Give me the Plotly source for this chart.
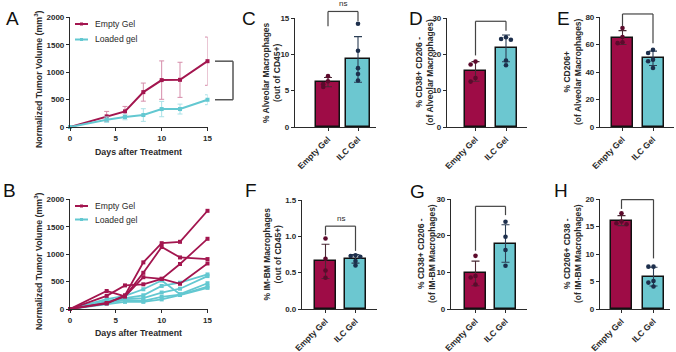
import numpy as np
import plotly.graph_objects as go

W, H = 676, 352

# ---------------- data ----------------
days = [0, 4, 6, 8, 10, 12, 15]
empty_mean = [0, 194, 285, 636, 855, 860, 1200]
empty_sd = [0, 90, 90, 165, 350, 320, 440]
loaded_mean = [0, 133, 182, 218, 327, 327, 497]
loaded_sd = [0, 50, 50, 115, 140, 90, 90]

empty_mice = [
    [0, 100, 250, 850, 1200, 1225, 1790],
    [0, 110, 230, 660, 1130, 940, 910],
    [0, 240, 430, 450, 550, 820, 1280],
    [0, 328, 230, 580, 550, 460, 830],
]
loaded_mice = [
    [0, 180, 240, 360, 520, 270, 470],
    [0, 150, 200, 250, 420, 480, 630],
    [0, 130, 180, 200, 300, 370, 600],
    [0, 110, 160, 150, 220, 260, 410],
    [0, 95, 130, 130, 175, 255, 385],
]

groups = ["Empty Gel", "ILC Gel"]

c_empty = [7.0, 6.3, 5.9, 5.5]
c_ilc = [14.2, 10.5, 8.1, 7.3, 6.4]
d_empty = [18.0, 17.2, 13.5, 12.5]
d_ilc = [24.7, 24.2, 24.0, 18.3, 17.0]
e_empty = [72.0, 65.5, 61.6, 61.0]
e_ilc = [56.2, 53.8, 49.0, 47.8, 42.9]
f_empty = [0.97, 0.69, 0.53, 0.43]
f_ilc = [0.74, 0.73, 0.72, 0.66, 0.60]
g_empty = [14.5, 9.0, 8.6, 6.7]
g_ilc = [23.8, 19.7, 16.1, 11.8]
h_empty = [17.4, 15.9, 15.6, 15.4]
h_ilc = [7.7, 7.7, 5.1, 4.8, 4.1]

# ---------------- style ----------------
RED = "#9E0C46"
RED_LINE = "#A3164F"
RED_ERR = "#D68DAA"
CYAN = "#6CC7D0"
CYAN_LINE = "#63C8D1"
CYAN_ERR = "#A9E1E7"
DOT_RED = "#5C0A2C"
DOT_BLUE = "#1D2F4C"
ERR_RED = "#4A2A35"
ERR_BLUE = "#2C3F55"
AXC = "#2a2a2a"
FONT = "Liberation Sans"

def px(x):
    return x / W

def py(y):
    return 1 - y / H

fig = go.Figure()
layout = {}
annotations = []
shapes = []

tickfont = dict(family=FONT, size=8, color=AXC, weight="bold")
cattickfont = dict(family=FONT, size=8.5, color=AXC, weight="bold")

def axis_common():
    return dict(showline=True, linecolor=AXC, linewidth=1.2, ticks="outside",
                ticklen=3, tickwidth=1.1, tickcolor=AXC, showgrid=False,
                zeroline=False, tickfont=tickfont, automargin=False)

# ---------------- line panels ----------------
line_panels = [
    dict(n=1, ytop=17.3, ybot=127, title_y=152, ytitle_y=79, leg=(24, 39.5)),
    dict(n=2, ytop=199.3, ybot=309, title_y=333, ytitle_y=261, leg=(206, 219.5)),
]
LX0, LX1 = 70, 207.5
for p in line_panels:
    n = p["n"]
    sfx = "" if n == 1 else str(n)
    xa = axis_common()
    xa.update(domain=[px(LX0), px(LX1)], range=[0, 15], tickvals=[0, 5, 10, 15], anchor="y" + sfx)
    ya = axis_common()
    ya.update(domain=[py(p["ybot"]), py(p["ytop"])], range=[0, 2000],
              tickvals=[0, 500, 1000, 1500, 2000], anchor="x" + sfx)
    layout["xaxis" + sfx] = xa
    layout["yaxis" + sfx] = ya
    annotations.append(dict(text="Days after Treatment", x=px((LX0 + LX1) / 2), y=py(p["title_y"]),
                            xref="paper", yref="paper", showarrow=False, xanchor="center", yanchor="middle",
                            font=dict(family=FONT, size=8.8, color=AXC, weight="bold")))
    annotations.append(dict(text="Normalized Tumor Volume (mm<sup>3</sup>)", x=px(38), y=py(p["ytitle_y"]),
                            xref="paper", yref="paper", showarrow=False, textangle=-90,
                            xanchor="center", yanchor="middle",
                            font=dict(family=FONT, size=8.8, color=AXC, weight="bold")))
    # manual legend
    for (lbl, col, yy) in [("Empty Gel", RED_LINE, p["leg"][0]), ("Loaded gel", CYAN_LINE, p["leg"][1])]:
        shapes.append(dict(type="line", xref="paper", yref="paper", x0=px(75), x1=px(88),
                           y0=py(yy), y1=py(yy), line=dict(color=col, width=2)))
        shapes.append(dict(type="rect", xref="paper", yref="paper", x0=px(80), x1=px(83),
                           y0=py(yy - 1.5), y1=py(yy + 1.5),
                           line=dict(width=0), fillcolor=col))
        annotations.append(dict(text=lbl, x=px(93), y=py(yy), xref="paper", yref="paper",
                                showarrow=False, xanchor="left", yanchor="middle",
                                font=dict(family=FONT, size=8.6, color=AXC)))

# Panel A: means with SD
fig.add_trace(go.Scatter(x=days, y=empty_mean, mode="lines+markers", xaxis="x", yaxis="y",
                         line=dict(color=RED_LINE, width=2), marker=dict(symbol="square", size=4, color=RED_LINE),
                         error_y=dict(type="data", array=empty_sd, color=RED_ERR, thickness=1, width=2.5),
                         cliponaxis=False, showlegend=False))
fig.add_trace(go.Scatter(x=days, y=loaded_mean, mode="lines+markers", xaxis="x", yaxis="y",
                         line=dict(color=CYAN_LINE, width=2), marker=dict(symbol="square", size=4, color=CYAN_LINE),
                         error_y=dict(type="data", array=loaded_sd, color=CYAN_ERR, thickness=1, width=2.5),
                         cliponaxis=False, showlegend=False))

def ydom(v, r):
    return (v - r[0]) / (r[1] - r[0])

# bracket right of panel A (domain coordinates)
bx0 = (215 - LX0) / (LX1 - LX0)
bx1 = (233 - LX0) / (LX1 - LX0)
yt = ydom(empty_mean[-1], [0, 2000])
yb = ydom(loaded_mean[-1], [0, 2000])
for (xa0, xa1, ya0, ya1) in [(bx0, bx1, yt, yt), (bx0, bx1, yb, yb), (bx1, bx1, yb, yt)]:
    shapes.append(dict(type="line", xref="x domain", yref="y domain", x0=xa0, x1=xa1, y0=ya0, y1=ya1,
                       line=dict(color="#555555", width=1.5)))

# Panel B: individual mice
for m in loaded_mice:
    fig.add_trace(go.Scatter(x=days, y=m, mode="lines+markers", xaxis="x2", yaxis="y2",
                             line=dict(color=CYAN_LINE, width=1.8),
                             marker=dict(symbol="square", size=4, color=CYAN_LINE),
                             cliponaxis=False, showlegend=False))
for m in empty_mice:
    fig.add_trace(go.Scatter(x=days, y=m, mode="lines+markers", xaxis="x2", yaxis="y2",
                             line=dict(color=RED_LINE, width=1.8),
                             marker=dict(symbol="square", size=4, color=RED_LINE),
                             cliponaxis=False, showlegend=False))

# ---------------- bar panels ----------------
bar_panels = [
    dict(letter="C", data=(c_empty, c_ilc), left=295, right=376, c0=328, c1=358, bw=24, ytop=18, ybot=127,
         rng=15, ticks=[0, 5, 10, 15], fmt=None, title="% Alveolar Macrophages<br>(out of CD45+)",
         tx=271.5, br=(15.9, 13.85, 14.6), ns=True),
    dict(letter="D", data=(d_empty, d_ilc), left=447, right=527, c0=475.5, c1=506, bw=21, ytop=18, ybot=127,
         rng=30, ticks=[0, 10, 20, 30], fmt=None, title="% CD38+ CD206 -<br>(of Alveolar Macrophages)",
         tx=424, br=(29.1, 19.7, 26.5), ns=False),
    dict(letter="E", data=(e_empty, e_ilc), left=600, right=674, c0=622.5, c1=653, bw=21, ytop=17, ybot=127,
         rng=80, ticks=[0, 20, 40, 60, 80], fmt=None, title="% CD206+<br>(of Alveolar Macrophages)",
         tx=572, br=(82.2, 73.2, 61.0), ns=False),
    dict(letter="F", data=(f_empty, f_ilc), left=302, right=377, c0=325.5, c1=355.5, bw=21, ytop=200, ybot=309,
         rng=1.5, ticks=[0, 0.5, 1.0, 1.5], fmt=".1f", title="% IM-BM Macrophages<br>(out of CD45+)",
         tx=272, br=(1.14, 1.015, 0.8), ns=True),
    dict(letter="G", data=(g_empty, g_ilc), left=451, right=527, c0=475.5, c1=505.5, bw=21, ytop=199, ybot=309,
         rng=30, ticks=[0, 10, 20, 30], fmt=None, title="% CD38+ CD206 -<br>(of IM-BM Macrophages)",
         tx=426, br=(28.0, 15.9, 25.6), ns=False),
    dict(letter="H", data=(h_empty, h_ilc), left=600, right=670, c0=621.5, c1=653.5, bw=21, ytop=199, ybot=309,
         rng=20, ticks=[0, 5, 10, 15, 20], fmt=None, title="% CD206+ CD38 -<br>(of IM-BM Macrophages)",
         tx=572, br=(19.9, 18.2, 9.2), ns=False),
]

def swarm(vals, thr):
    pattern = [0, -1, 1, -2, 2]
    offs, placed = [], []
    for v in vals:
        k = sum(1 for q in placed if abs(q - v) < thr)
        offs.append(pattern[min(k, 4)] * 0.16)
        placed.append(v)
    return offs

for i, p in enumerate(bar_panels):
    n = i + 3
    xn, yn = "x%d" % n, "y%d" % n
    unit = p["c1"] - p["c0"]
    xr = [(p["left"] - p["c0"]) / unit, (p["right"] - p["c0"]) / unit]
    yr = [0, p["rng"]]
    xa = axis_common()
    xa.update(domain=[px(p["left"]), px(p["right"])], range=xr, tickvals=[0, 1], ticktext=groups,
              tickangle=-45, anchor=yn, tickfont=cattickfont)
    ya = axis_common()
    ya.update(domain=[py(p["ybot"]), py(p["ytop"])], range=yr, tickvals=p["ticks"], anchor=xn)
    if p["fmt"]:
        ya.update(tickformat=p["fmt"])
    layout["xaxis%d" % n] = xa
    layout["yaxis%d" % n] = ya

    bw = p["bw"] / unit
    for gi, (vals, fill, dcol, ecol) in enumerate([(p["data"][0], RED, DOT_RED, ERR_RED),
                                                    (p["data"][1], CYAN, DOT_BLUE, ERR_BLUE)]):
        arr = np.array(vals)
        mean = arr.mean()
        sd = arr.std(ddof=1)
        fig.add_trace(go.Bar(x=[gi], y=[mean], width=bw, xaxis=xn, yaxis=yn,
                             marker=dict(color=fill, line=dict(color="#111111", width=1.5)),
                             error_y=dict(type="data", array=[sd], color=ecol, thickness=1.1, width=4),
                             showlegend=False))
        offs = swarm(vals, p["rng"] * 0.035)
        fig.add_trace(go.Scatter(x=[gi + o for o in offs], y=vals, mode="markers", xaxis=xn, yaxis=yn,
                                 marker=dict(size=4.6, color=dcol), cliponaxis=False, showlegend=False))

    # significance bracket
    top, lleg, rleg = p["br"]
    xd0 = (0 - xr[0]) / (xr[1] - xr[0])
    xd1 = (1 - xr[0]) / (xr[1] - xr[0])
    for (a0, a1, b0, b1) in [(xd0, xd1, top, top), (xd0, xd0, lleg, top), (xd1, xd1, rleg, top)]:
        shapes.append(dict(type="line", xref=xn + " domain", yref=yn + " domain", x0=a0, x1=a1,
                           y0=ydom(b0, yr), y1=ydom(b1, yr), line=dict(color="#444444", width=1.2)))
    if p["ns"]:
        annotations.append(dict(text="ns", xref=xn + " domain", yref=yn + " domain",
                                x=(xd0 + xd1) / 2, y=ydom(top, yr) + 0.015, showarrow=False,
                                xanchor="center", yanchor="bottom",
                                font=dict(family=FONT, size=8, color=AXC)))
    # y title
    annotations.append(dict(text=p["title"], x=px(p["tx"]), y=py((p["ytop"] + p["ybot"]) / 2),
                            xref="paper", yref="paper", showarrow=False, textangle=-90,
                            xanchor="center", yanchor="middle",
                            font=dict(family=FONT, size=8.5, color=AXC, weight="bold")))

# panel letters
letters = [("A", 12, 19), ("B", 9, 190), ("C", 249, 18), ("D", 416, 18), ("E", 563, 19),
           ("F", 251, 190), ("G", 417, 191), ("H", 561, 190)]
for t, x, y in letters:
    annotations.append(dict(text=t, x=px(x), y=py(y), xref="paper", yref="paper", showarrow=False,
                            xanchor="center", yanchor="middle",
                            font=dict(family=FONT, size=19, color="#111111")))

fig.update_layout(width=W, height=H, margin=dict(l=0, r=0, t=0, b=0),
                  paper_bgcolor="white", plot_bgcolor="white",
                  annotations=annotations, shapes=shapes, showlegend=False, bargap=0, **layout)

fig.write_html("out.html")
